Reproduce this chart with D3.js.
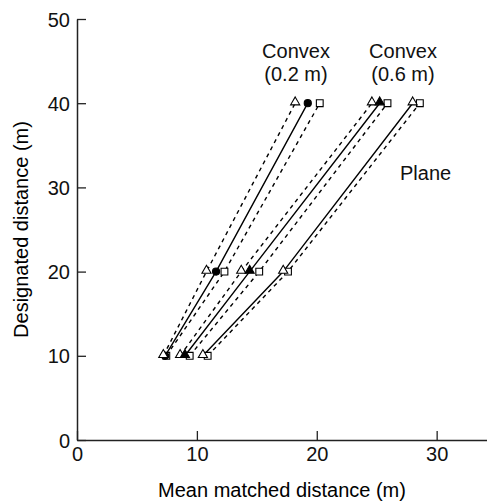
<!DOCTYPE html>
<html>
<head>
<meta charset="utf-8">
<script src="https://cdn.jsdelivr.net/npm/d3@7"></script>
<style>
    body { margin: 0; background: #fff; }
    text { font-family: "Liberation Sans", Arial, sans-serif; }
</style>
</head>
<body>
<div id="chart"></div>
<script>
// designated distances (y) and mean matched distances (x) per condition
var designated = [10, 20, 40];

var convex02Tri = [7.2, 10.8, 18.2];
var convex02Mean = [7.35, 11.6, 19.25];
var convex02Sq = [7.45, 12.3, 20.25];

var convex06Tri = [8.6, 13.7, 24.6];
var convex06Mean = [9.0, 14.4, 25.25];
var convex06Sq = [9.4, 15.2, 25.9];

var planeTri = [10.5, 17.2, 28.0];
var planeSq = [10.9, 17.6, 28.6];

var xTicks = [0, 10, 20, 30];
var yTicks = [0, 10, 20, 30, 40, 50];

var W = 487, H = 502;
var margin = {top: 19, right: 0, bottom: 62, left: 77};

var x = d3.scaleLinear().domain([0, 34.2]).range([margin.left, W - margin.right]);
var y = d3.scaleLinear().domain([0, 50]).range([H - margin.bottom, margin.top]);

var svg = d3.select("#chart").append("svg")
    .attr("width", W)
    .attr("height", H);

// series: which line style and marker each one gets
var series = [
    {vals: convex02Tri, dash: "4,4", mark: "tri"},
    {vals: convex02Sq, dash: "4,4", mark: "sq"},
    {vals: convex02Mean, dash: null, mark: "dot"},
    {vals: convex06Tri, dash: "4,4", mark: "tri"},
    {vals: convex06Sq, dash: "4,4", mark: "sq"},
    {vals: convex06Mean, dash: null, mark: "filltri"},
    {vals: planeSq, dash: "4,4", mark: "sq"},
    {vals: planeTri, dash: null, mark: "tri"}
];

var line = d3.line()
    .x(function (d) { return x(d[0]) })
    .y(function (d) { return y(d[1]) });

function pts(vals) {
    return vals.map(function (v, i) { return [v, designated[i]] });
}

var g = svg.append("g");

g.selectAll(".ln")
    .data(series)
    .enter().append("path")
    .attr("class", "ln")
    .attr("d", function (d) { return line(pts(d.vals)) })
    .style("fill", "none")
    .style("stroke", "#000")
    .style("stroke-width", 1.4)
    .style("stroke-dasharray", function (d) { return d.dash });

var triSym = d3.symbol().type(d3.symbolTriangle).size(36);
var sqSym = d3.symbol().type(d3.symbolSquare).size(46);
var dotSym = d3.symbol().type(d3.symbolCircle).size(40);

// drawing order of the marker kinds
var order = ["sq", "dot", "tri", "filltri"];
order.forEach(function (m) {
    series.filter(function (s) { return s.mark == m }).forEach(function (s) {
        var sym = m == "sq" ? sqSym : (m == "dot" ? dotSym : triSym);
        var filled = (m == "dot" || m == "filltri");
        g.selectAll(null)
            .data(pts(s.vals))
            .enter().append("path")
            .attr("d", sym)
            .attr("transform", function (d) {
                var dy = (m == "tri" || m == "filltri") ? -1 : 0;
                return "translate(" + x(d[0]) + "," + (y(d[1]) + dy) + ")";
            })
            .style("fill", filled ? "#000" : "#fff")
            .style("stroke", "#000")
            .style("stroke-width", 1.1);
    });
});

// axes with inward ticks
var xAxis = svg.append("g")
    .attr("transform", "translate(0," + y(0) + ")")
    .call(d3.axisBottom(x).tickValues(xTicks).tickSize(-9).tickPadding(7).tickSizeOuter(0));
var yAxis = svg.append("g")
    .attr("transform", "translate(" + x(0) + ",0)")
    .call(d3.axisLeft(y).tickValues(yTicks).tickSize(-9).tickPadding(7).tickSizeOuter(0));

[xAxis, yAxis].forEach(function (a) {
    a.select(".domain").style("stroke", "#222").style("stroke-width", 1.5);
    a.selectAll(".tick line").style("stroke", "#222").style("stroke-width", 1.3);
    a.selectAll("text")
        .style("font-family", "'Liberation Sans', Arial, sans-serif")
        .style("font-size", "20px")
        .style("fill", "#111");
});
yAxis.selectAll("text").attr("dy", "0.35em");

// axis titles
svg.append("text")
    .attr("x", (x(0) + x(34.2)) / 2)
    .attr("y", 497)
    .attr("text-anchor", "middle")
    .style("font-size", "20px")
    .text("Mean matched distance (m)");

svg.append("text")
    .attr("transform", "translate(28," + ((y(0) + y(50)) / 2) + ") rotate(-90)")
    .attr("text-anchor", "middle")
    .style("font-size", "20px")
    .text("Designated distance (m)");

// series labels
var labels = [
    {t: "Convex", x: 296, y: 58, a: "middle"},
    {t: "(0.2 m)", x: 296, y: 81, a: "middle"},
    {t: "Convex", x: 403, y: 58, a: "middle"},
    {t: "(0.6 m)", x: 403, y: 81, a: "middle"},
    {t: "Plane", x: 400, y: 180, a: "start"}
];
svg.selectAll(".lbl")
    .data(labels)
    .enter().append("text")
    .attr("class", "lbl")
    .attr("x", function (d) { return d.x })
    .attr("y", function (d) { return d.y })
    .attr("text-anchor", function (d) { return d.a })
    .style("font-size", "20px")
    .style("fill", "#111")
    .text(function (d) { return d.t });
</script>
</body>
</html>
